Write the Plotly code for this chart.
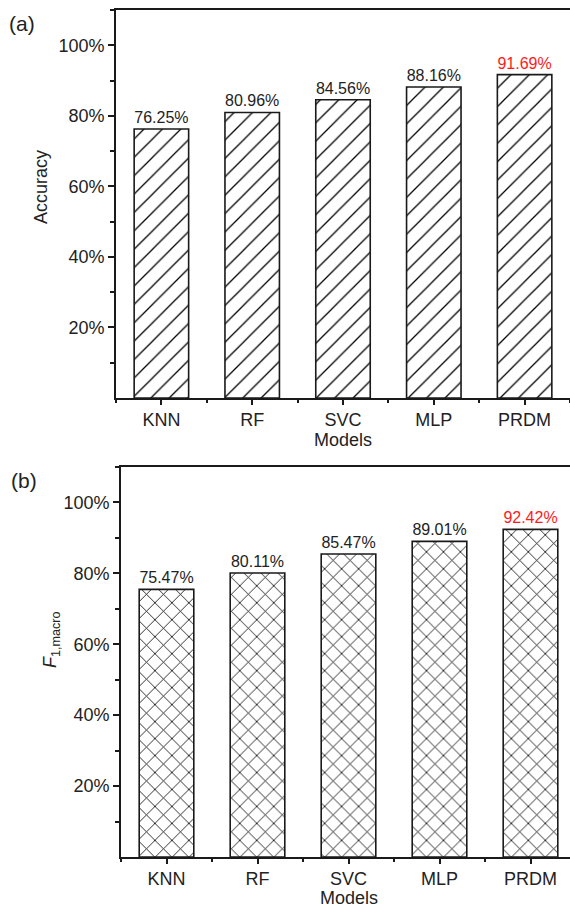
import plotly.graph_objects as go

models = ["KNN", "RF", "SVC", "MLP", "PRDM"]
accuracy = [76.25, 80.96, 84.56, 88.16, 91.69]
f1_macro = [75.47, 80.11, 85.47, 89.01, 92.42]
y_ticks = [20, 40, 60, 80, 100]
label_colors = ["#222222", "#222222", "#222222", "#222222", "#ff1a1a"]

W, H = 570, 907
FONT = "Liberation Sans, Arial, sans-serif"
AX = "#1a1a1a"

def px_x(p):
    return p / W

def px_y(p):
    return 1 - p / H

x_pos = list(range(len(models)))

fig = go.Figure()

fig.add_trace(go.Bar(
    x=x_pos, y=accuracy, width=0.6,
    marker=dict(color="white", line=dict(color=AX, width=1.6),
                pattern=dict(shape="/", fgcolor="#000000", bgcolor="white",
                             size=13, solidity=0.1, fillmode="replace")),
    text=[f"{v:.2f}%" for v in accuracy], textposition="outside",
    textfont=dict(size=16, color=label_colors, family=FONT),
    constraintext="none", cliponaxis=False,
    xaxis="x", yaxis="y", showlegend=False,
))

fig.add_trace(go.Bar(
    x=x_pos, y=f1_macro, width=0.6,
    marker=dict(color="white", line=dict(color=AX, width=1.6),
                pattern=dict(shape="x", fgcolor="#000000", bgcolor="white",
                             size=12, solidity=0.13, fillmode="replace")),
    text=[f"{v:.2f}%" for v in f1_macro], textposition="outside",
    textfont=dict(size=16, color=label_colors, family=FONT),
    constraintext="none", cliponaxis=False,
    xaxis="x2", yaxis="y2", showlegend=False,
))

def xaxis_cfg(domain, rng, anchor):
    return dict(
        domain=domain, range=rng, anchor=anchor,
        tickmode="array", tickvals=x_pos, ticktext=models,
        showline=True, linecolor=AX, linewidth=1.6, mirror=True,
        ticks="outside", ticklen=5, tickwidth=1.5, tickcolor=AX,
        minor=dict(tickmode="linear", tick0=0.5, dtick=1, ticks="outside",
                   ticklen=3, tickwidth=1.5, tickcolor=AX, showgrid=False),
        showgrid=False, zeroline=False,
        tickfont=dict(size=18, color="#222222", family=FONT),
    )

def yaxis_cfg(domain, anchor):
    return dict(
        domain=domain, range=[0, 110], anchor=anchor,
        tickmode="array", tickvals=y_ticks, ticktext=[f"{v}%" for v in y_ticks],
        showline=True, linecolor=AX, linewidth=1.6, mirror=False,
        ticks="outside", ticklen=6, tickwidth=1.5, tickcolor=AX,
        minor=dict(tickmode="linear", tick0=10, dtick=20, ticks="outside",
                   ticklen=4, tickwidth=1.5, tickcolor=AX, showgrid=False),
        showgrid=False, zeroline=False,
        tickfont=dict(size=18, color="#222222", family=FONT),
    )

top_l, bot_l = 116, 121
fig.update_layout(
    width=W, height=H, autosize=False,
    margin=dict(l=0, r=0, t=0, b=0),
    paper_bgcolor="white", plot_bgcolor="white",
    font=dict(family=FONT, color="#222222"),
    bargap=0.4,
    xaxis=xaxis_cfg([px_x(top_l), 1], [-0.5, 4.5], "y"),
    yaxis=yaxis_cfg([px_y(398), px_y(10)], "x"),
    xaxis2=xaxis_cfg([px_x(bot_l), 1], [-0.5, -0.5 + (W - bot_l) / 91.0], "y2"),
    yaxis2=yaxis_cfg([px_y(857), px_y(467)], "x2"),
)

ann = [
    dict(text="(a)", x=px_x(22), y=px_y(23), font=dict(size=21)),
    dict(text="(b)", x=px_x(24), y=px_y(480), font=dict(size=21)),
    dict(text="Accuracy", x=px_x(41), y=px_y(187), textangle=-90, font=dict(size=18)),
    dict(text="<i>F</i><sub>1,macro</sub>", x=px_x(51), y=px_y(640), textangle=-90, font=dict(size=18)),
]
for a in ann:
    a.update(xref="paper", yref="paper", xanchor="center", yanchor="middle", showarrow=False)
    a["font"].update(family=FONT, color="#222222")
    fig.add_annotation(**a)

fig.add_annotation(text="Models", xref="x", x=2, yref="paper", y=px_y(440),
                   xanchor="center", yanchor="middle", showarrow=False,
                   font=dict(size=18, family=FONT, color="#222222"))
fig.add_annotation(text="Models", xref="x2", x=2, yref="paper", y=px_y(898),
                   xanchor="center", yanchor="middle", showarrow=False,
                   font=dict(size=18, family=FONT, color="#222222"))

fig.write_html("out.html")
